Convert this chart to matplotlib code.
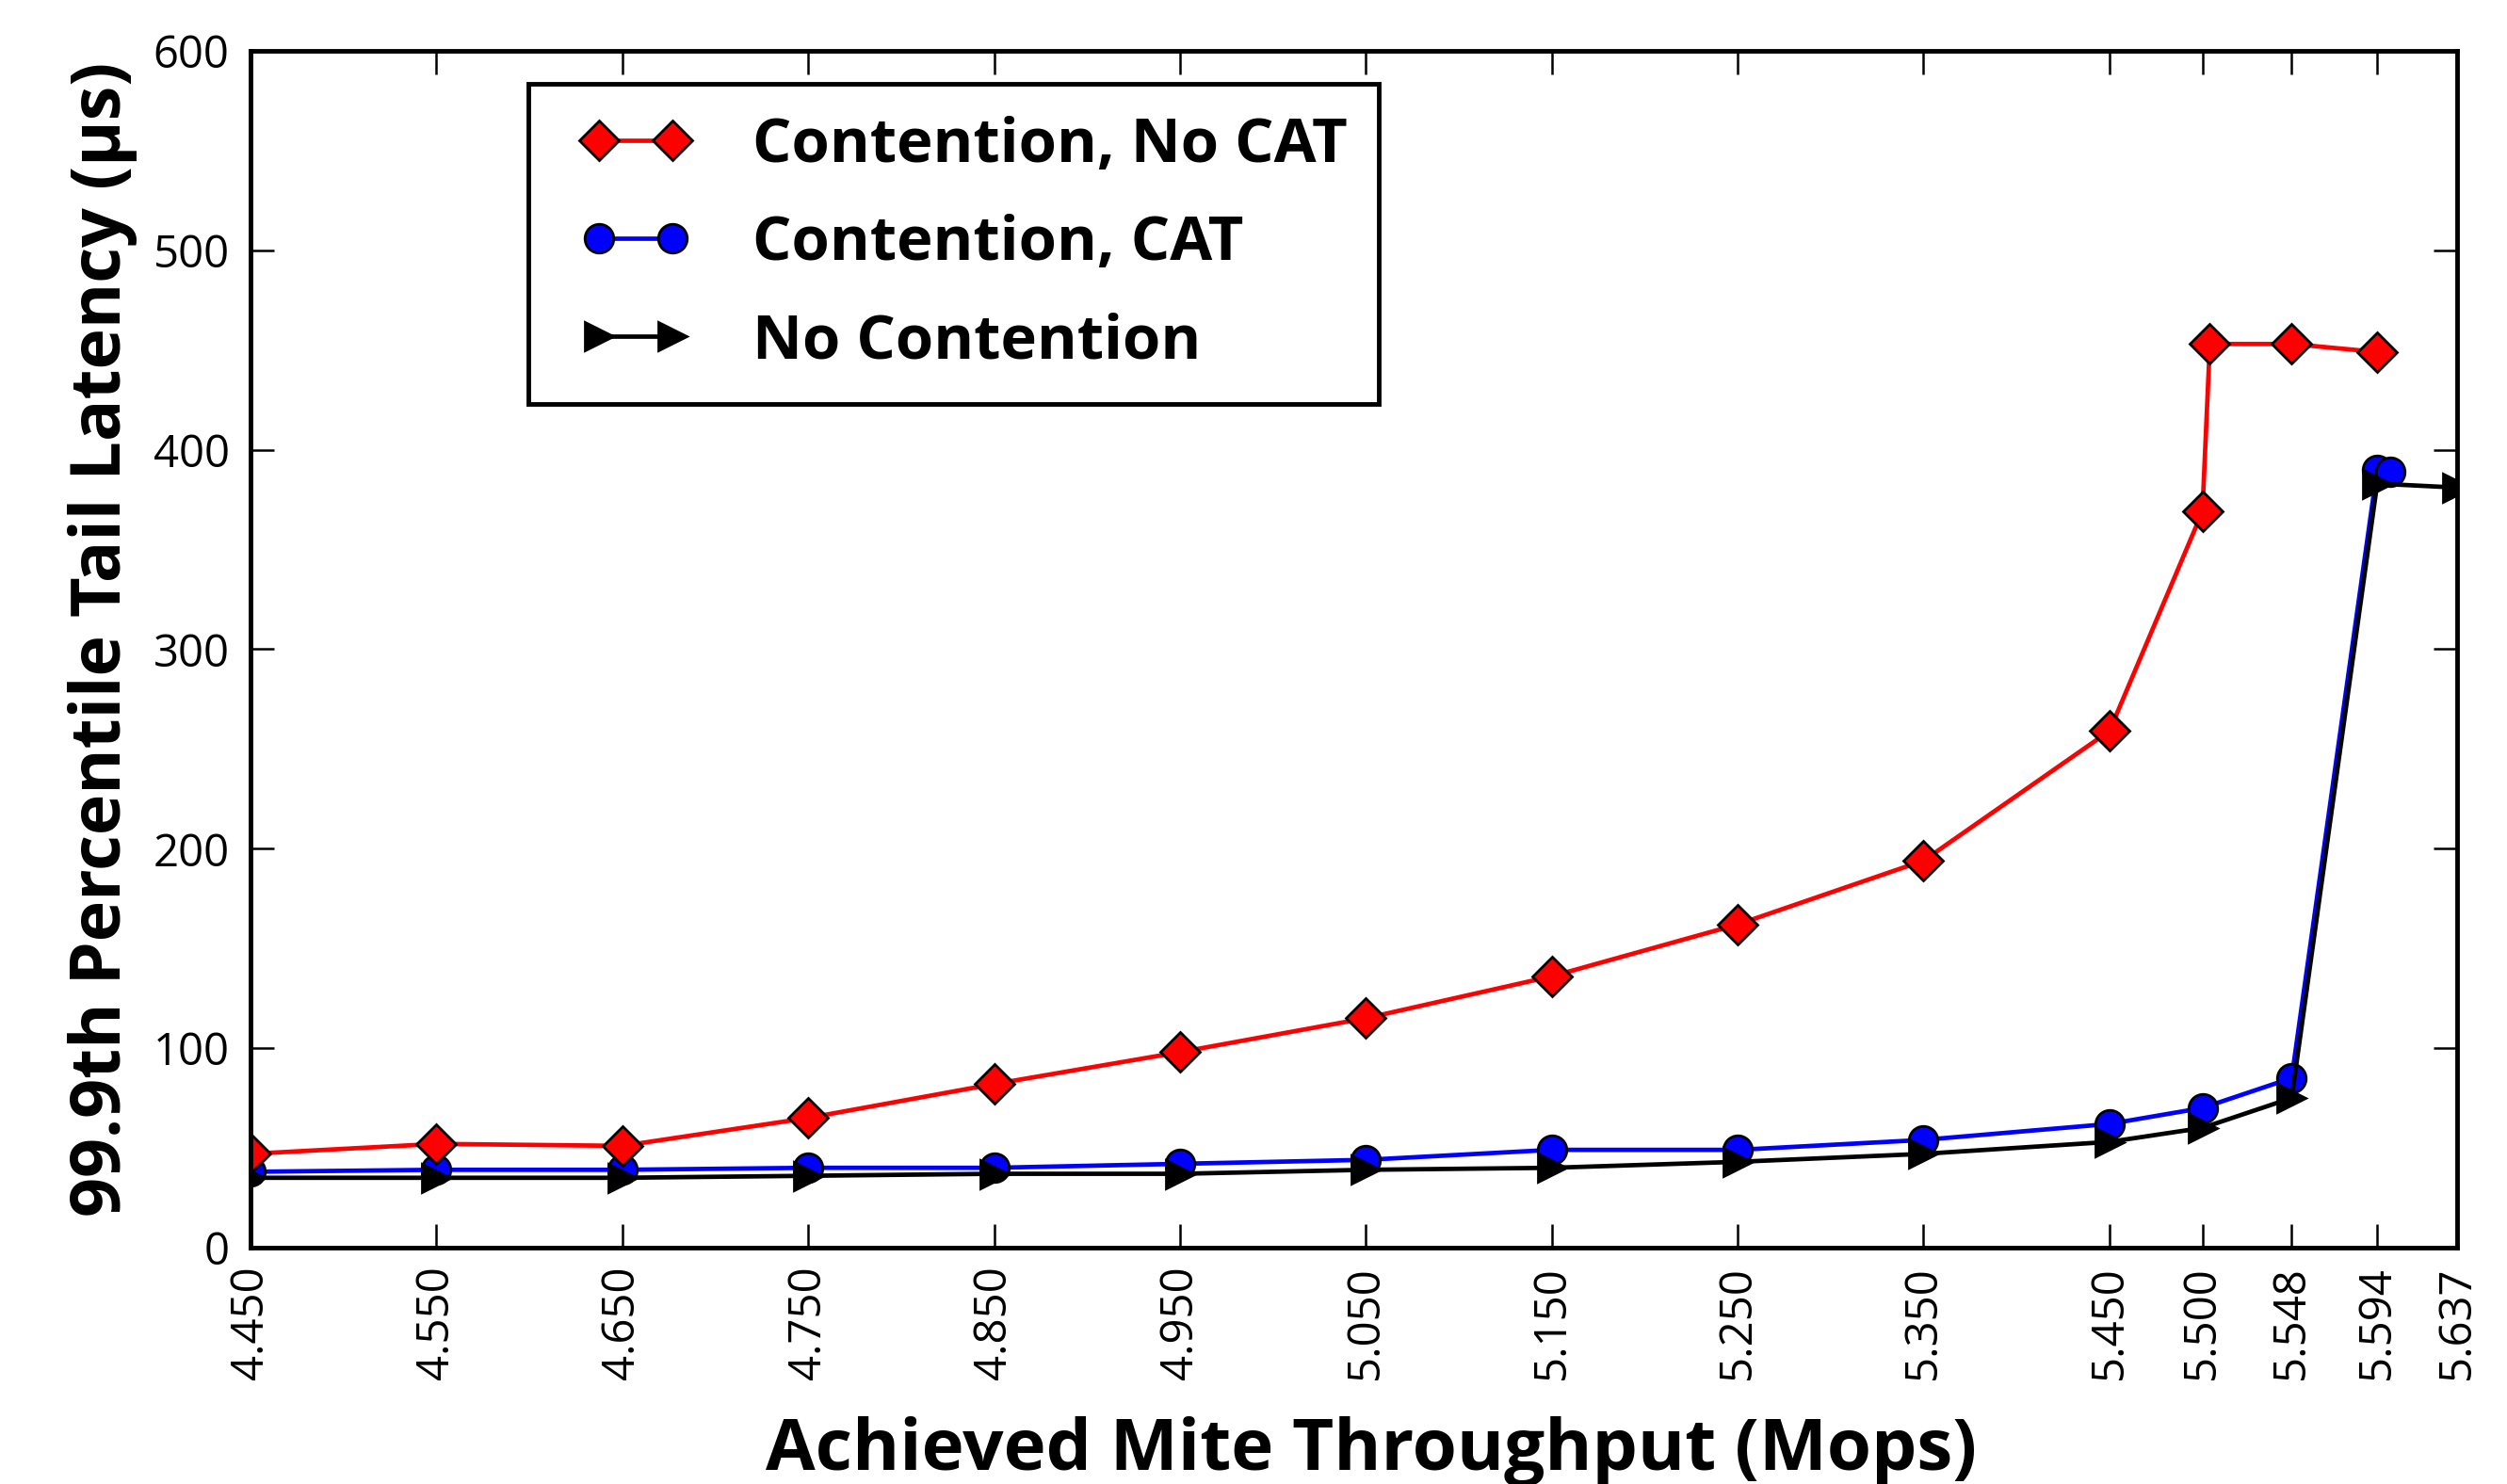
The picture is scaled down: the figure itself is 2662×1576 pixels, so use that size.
import matplotlib
matplotlib.use("Agg")
import matplotlib.pyplot as plt
from matplotlib.lines import Line2D
from matplotlib.legend_handler import HandlerLine2D

plt.rcParams['font.family'] = ['Open Sans', 'DejaVu Sans']

# achieved throughput (Mops) and 99.9th percentile latency (us)
x_nocat = [4.45, 4.55, 4.65, 4.75, 4.85, 4.95, 5.05, 5.15, 5.25, 5.35, 5.45, 5.50, 5.504, 5.548, 5.594]
y_nocat = [47, 52, 51, 65, 82, 98, 115, 136, 162, 194, 259, 369, 453, 453, 449]

x_cat = [4.45, 4.55, 4.65, 4.75, 4.85, 4.95, 5.05, 5.15, 5.25, 5.35, 5.45, 5.50, 5.548, 5.594, 5.601]
y_cat = [38, 39, 39, 40, 40, 42, 44, 49, 49, 54, 62, 70, 85, 390, 389]

x_none = [4.45, 4.55, 4.65, 4.75, 4.85, 4.95, 5.05, 5.15, 5.25, 5.35, 5.45, 5.50, 5.548, 5.594, 5.637]
y_none = [35, 35, 35, 36, 37, 37, 39, 40, 43, 47, 53, 60, 75, 383, 381]

xticks = [4.45, 4.55, 4.65, 4.75, 4.85, 4.95, 5.05, 5.15, 5.25, 5.35, 5.45, 5.50, 5.548, 5.594, 5.637]
yticks = [0, 100, 200, 300, 400, 500, 600]

fig = plt.figure(figsize=(26.62, 15.76), dpi=100)
ax = fig.add_axes([0.0999, 0.1593, 0.8802, 0.8065])

ms = 22
l_cat, = ax.plot(x_cat, y_cat, color='blue', lw=3.4, marker='o', ms=ms,
                 mfc='blue', mec='black', mew=2, label='Contention, CAT')
l_nocat, = ax.plot(x_nocat, y_nocat, color='red', lw=3.4, marker='D', ms=21,
                   mfc='red', mec='black', mew=2, label='Contention, No CAT')
l_none, = ax.plot(x_none, y_none, color='black', lw=3.4, marker='>', ms=ms,
                  mfc='black', mec='black', mew=2, label='No Contention')

ax.set_xlim(4.45, 5.637)
ax.set_ylim(0, 600)
ax.set_xticks(xticks)
ax.set_xticklabels([f'{v:.3f}' for v in xticks], rotation=90)
ax.set_yticks(yticks)
ax.tick_params(direction='in', length=18, width=1.8, labelsize=34,
               top=True, right=True)
ax.tick_params(axis='x', pad=14)
ax.tick_params(axis='y', pad=16)
for s in ax.spines.values():
    s.set_linewidth(3.5)

ax.set_xlabel('Achieved Mite Throughput (Mops)', fontsize=55, fontweight='bold', labelpad=28)
ax.xaxis.label.set_x(0.508)
ax.set_ylabel('99.9th Percentile Tail Latency (µs)', fontsize=53, fontweight='bold', labelpad=12)
ax.yaxis.label.set_y(0.508)

leg = ax.legend(handles=[l_nocat, l_cat, l_none], loc='upper left',
                bbox_to_anchor=(0.126, 0.972), borderaxespad=0,
                handler_map={Line2D: HandlerLine2D(numpoints=2, marker_pad=0.64)},
                fancybox=False, framealpha=1, edgecolor='black',
                prop={'size': 47, 'weight': 'bold'}, handlelength=2.47,
                handletextpad=0.67, labelspacing=0.6, borderpad=0.51)
leg.get_frame().set_linewidth(3.5)

fig.savefig('out.png', dpi=100)
